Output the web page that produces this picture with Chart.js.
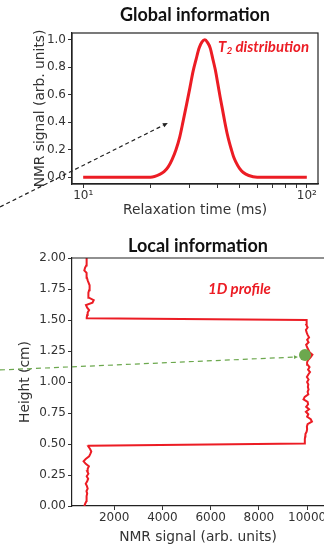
<!DOCTYPE html>
<html>
<head>
<meta charset="utf-8">
<script src="https://cdn.jsdelivr.net/npm/chart.js@4"></script>
<style>
  html, body { margin: 0; padding: 0; background: #fff; }
  body { width: 324px; height: 548px; overflow: hidden; position: relative; }
  #globalChart { position: absolute; left: 0; top: 0; }
  #localChart { position: absolute; left: 0; top: 230px; }
</style>
</head>
<body>
<canvas id="globalChart" width="324" height="230"></canvas>
<canvas id="localChart" width="344" height="318"></canvas>
<script>
// --- top panel: T2 distribution ---
const t2Times = [10, 15, 20, 22, 23, 24, 25, 26, 27, 28, 29, 30, 31, 32, 33, 34, 35, 36, 37, 38, 39, 40,
                 41, 42, 43, 44, 45, 46, 47, 48, 50, 52, 55, 60, 70, 100];
const t2Signal = [0, 0, 0, 0.02, 0.04, 0.075, 0.13, 0.2, 0.29, 0.41, 0.53, 0.65, 0.77, 0.86, 0.94, 0.985, 1.0, 0.98,
                  0.94, 0.86, 0.78, 0.68, 0.58, 0.49, 0.4, 0.32, 0.255, 0.2, 0.15, 0.115, 0.064, 0.034, 0.012, 0, 0, 0];
const t2TimeTicks = [10, 20, 30, 40, 50, 60, 70, 80, 90, 100];
const t2SignalTicks = [0, 0.2, 0.4, 0.6, 0.8, 1.0];

// --- bottom panel: 1D profile ---
const profileHeights = [
  0, 0.02, 0.04, 0.06, 0.08, 0.1, 0.12, 0.14, 0.16, 0.18, 0.2, 0.22, 0.24, 0.26, 0.28, 0.3, 0.32, 0.34, 0.36, 0.38,
  0.4, 0.42, 0.44, 0.46, 0.48, 0.485, 0.505,
  0.52, 0.54, 0.56, 0.58, 0.6, 0.62, 0.64, 0.66, 0.68, 0.7, 0.72, 0.74, 0.76, 0.78, 0.8, 0.82, 0.84, 0.86, 0.88,
  0.9, 0.92, 0.94, 0.96, 0.98, 1.0, 1.02, 1.04, 1.06, 1.08, 1.1, 1.12, 1.14, 1.16, 1.18, 1.2, 1.22, 1.24, 1.26,
  1.28, 1.3, 1.32, 1.34, 1.36, 1.38, 1.4, 1.42, 1.44, 1.46, 1.48, 1.5, 1.515,
  1.52, 1.54, 1.56, 1.58, 1.6, 1.62, 1.64, 1.66, 1.68, 1.7, 1.72, 1.74, 1.76, 1.78, 1.8, 1.82, 1.84, 1.86, 1.88,
  1.9, 1.92, 1.94, 1.96, 1.98, 2.0
];
const profileSignal = [
  760, 800, 850, 870, 840, 880, 850, 900, 870, 820, 880, 920, 860, 930, 880, 900, 950, 820, 730, 820,
  960, 1010, 1050, 1000, 930, 940, 9880,
  9900, 9910, 9920, 9930, 9980, 10000, 9990, 10020, 10200, 10150, 10000, 10050, 9950, 10080, 9960, 10040, 10020, 9850, 9900,
  10050, 10020, 10060, 10030, 10050, 10000, 10060, 9990, 10050, 10120, 10040, 10100, 10020, 10000, 10050, 10150, 10220, 10100, 10050,
  10000, 9960, 10060, 10000, 10080, 10020, 9980, 9950, 10020, 9970, 9980, 9980, 870,
  860, 880, 900, 960, 880, 830, 1100, 1150, 950, 920, 940, 960, 990, 970, 940, 900, 870, 860, 850,
  760, 790, 840, 860, 850, 860
];
const heightTicks = [0, 0.25, 0.5, 0.75, 1.0, 1.25, 1.5, 1.75, 2.0];
const profileSignalTicks = [2000, 4000, 6000, 8000, 10000];

// selected voxel and the arrows linking the panels (data units)
const pickedVoxel = [{ x: 9912, y: 1.218 }];
const globalArrow = { from: [4.25, -0.217], to: [23.9, 0.394] };
const localArrow = { from: [-2736, 1.097], to: [9622, 1.202] };

const red = 'rgb(236, 28, 36)';
const green = 'rgb(108, 168, 78)';
Chart.defaults.font.family = "'DejaVu Sans', sans-serif";
Chart.defaults.color = '#333';

function drawArrow(ctx, x0, y0, x1, y1, color, dash, head) {
  const a = Math.atan2(y1 - y0, x1 - x0);
  ctx.save();
  ctx.strokeStyle = color;
  ctx.fillStyle = color;
  ctx.lineWidth = 1.2;
  ctx.setLineDash(dash);
  ctx.beginPath();
  ctx.moveTo(x0, y0);
  ctx.lineTo(x1 - head * Math.cos(a), y1 - head * Math.sin(a));
  ctx.stroke();
  ctx.setLineDash([]);
  ctx.beginPath();
  ctx.moveTo(x1, y1);
  ctx.lineTo(x1 - head * Math.cos(a) + head * 0.45 * Math.sin(a), y1 - head * Math.sin(a) - head * 0.45 * Math.cos(a));
  ctx.lineTo(x1 - head * Math.cos(a) - head * 0.45 * Math.sin(a), y1 - head * Math.sin(a) + head * 0.45 * Math.cos(a));
  ctx.closePath();
  ctx.fill();
  ctx.restore();
}

function axisTitle(text, pad) {
  return { display: true, text: text, color: '#333', font: { size: 13.8 }, padding: pad };
}

const globalOverlay = {
  id: 'globalOverlay',
  afterDraw(chart) {
    const { ctx, chartArea: a, scales: { x, y } } = chart;
    ctx.save();
    ctx.strokeStyle = '#222';
    ctx.lineWidth = 1.2;
    ctx.strokeRect(a.left, a.top, a.right - a.left, a.bottom - a.top);
    // label
    ctx.fillStyle = red;
    ctx.textBaseline = 'middle';
    let tx = x.getPixelForValue(40.1), ty = y.getPixelForValue(0.948);
    ctx.font = "italic bold 15px Lato";
    ctx.fillText('T', tx, ty);
    tx += ctx.measureText('T').width;
    ctx.font = "italic bold 10px Lato";
    ctx.fillText('2', tx, ty + 4);
    tx += ctx.measureText('2').width;
    ctx.font = "italic bold 15px Lato";
    ctx.fillText(' distribution', tx, ty);
    ctx.restore();
    drawArrow(ctx, x.getPixelForValue(globalArrow.from[0]), y.getPixelForValue(globalArrow.from[1]),
      x.getPixelForValue(globalArrow.to[0]), y.getPixelForValue(globalArrow.to[1]), '#222', [4, 3], 5);
  }
};

new Chart(document.getElementById('globalChart'), {
  type: 'scatter',
  data: {
    datasets: [{
      data: t2Times.map((t, i) => ({ x: t, y: t2Signal[i] })),
      showLine: true,
      borderColor: red,
      borderWidth: 3,
      pointRadius: 0,
      cubicInterpolationMode: 'monotone'
    }]
  },
  options: {
    responsive: false,
    devicePixelRatio: 1,
    animation: false,
    layout: { padding: { left: 0, right: 6, top: 0, bottom: 0 } },
    plugins: {
      legend: { display: false },
      tooltip: { enabled: false },
      title: {
        display: true, text: 'Global information', fullSize: false, color: '#111',
        font: { family: 'Lato', size: 18, weight: 'bold' }, padding: { top: 4, bottom: 7.4 }
      }
    },
    scales: {
      x: {
        type: 'logarithmic', min: 8.913, max: 112.2,
        afterBuildTicks: s => { s.ticks = t2TimeTicks.map(v => ({ value: v })); },
        afterFit: s => { s.height = 46; },
        grid: { drawOnChartArea: false, tickLength: 4, color: '#333' },
        border: { color: '#222', width: 1.2 },
        ticks: {
          autoSkip: false, maxRotation: 0, padding: 1, font: { size: 12 },
          callback: v => v === 10 ? '10\u00b9' : (v === 100 ? '10\u00b2' : '')
        },
        title: axisTitle('Relaxation time (ms)', { top: 0, bottom: 11.7 })
      },
      y: {
        min: -0.05, max: 1.05,
        afterBuildTicks: s => { s.ticks = t2SignalTicks.map(v => ({ value: v })); },
        afterFit: s => { s.width = 72; },
        grid: { drawOnChartArea: false, tickLength: 4, color: '#333' },
        border: { color: '#222', width: 1.2 },
        ticks: { padding: 2, font: { size: 12 }, callback: v => v.toFixed(1) },
        title: axisTitle('NMR signal (arb. units)', { top: 31.7, bottom: 0 })
      }
    }
  },
  plugins: [globalOverlay]
});

const localOverlay = {
  id: 'localOverlay',
  afterDraw(chart) {
    const { ctx, chartArea: a, scales: { x, y } } = chart;
    ctx.save();
    ctx.strokeStyle = '#222';
    ctx.lineWidth = 1.2;
    ctx.beginPath();
    ctx.moveTo(a.left, a.top);
    ctx.lineTo(a.right, a.top);
    ctx.stroke();
    ctx.fillStyle = red;
    ctx.textBaseline = 'middle';
    ctx.font = "italic bold 15px Lato";
    ctx.fillText('1D profile', x.getPixelForValue(5890), y.getPixelForValue(1.75));
    ctx.restore();
    drawArrow(ctx, x.getPixelForValue(localArrow.from[0]), y.getPixelForValue(localArrow.from[1]),
      x.getPixelForValue(localArrow.to[0]), y.getPixelForValue(localArrow.to[1]), green, [5, 4], 4);
  }
};

new Chart(document.getElementById('localChart'), {
  type: 'scatter',
  data: {
    datasets: [{
      data: pickedVoxel,
      pointRadius: 6,
      backgroundColor: green,
      borderWidth: 0,
      order: 0
    }, {
      data: profileHeights.map((h, i) => ({ x: profileSignal[i], y: h })),
      showLine: true,
      borderColor: red,
      borderWidth: 2,
      pointRadius: 0,
      tension: 0,
      order: 1
    }]
  },
  options: {
    responsive: false,
    devicePixelRatio: 1,
    animation: false,
    layout: { padding: { left: 0, right: 20, top: 0, bottom: 0 } },
    plugins: {
      legend: { display: false },
      tooltip: { enabled: false },
      title: {
        display: true, text: 'Local information', fullSize: false, color: '#111',
        font: { family: 'Lato', size: 18, weight: 'bold' }, padding: { top: 5, bottom: 1.4 }
      }
    },
    scales: {
      x: {
        min: 250, max: 10700,
        afterBuildTicks: s => { s.ticks = profileSignalTicks.map(v => ({ value: v })); },
        afterFit: s => { s.height = 42; },
        grid: { drawOnChartArea: false, tickLength: 4, color: '#333' },
        border: { color: '#222', width: 1.2 },
        ticks: { autoSkip: false, maxRotation: 0, padding: 1, font: { size: 12 }, callback: v => String(v) },
        title: axisTitle('NMR signal (arb. units)', { top: 0, bottom: 2.7 })
      },
      y: {
        min: 0, max: 2,
        afterBuildTicks: s => { s.ticks = heightTicks.map(v => ({ value: v })); },
        afterFit: s => { s.width = 72; },
        grid: { drawOnChartArea: false, tickLength: 4, color: '#333' },
        border: { color: '#222', width: 1.2 },
        ticks: { padding: 2, font: { size: 12 }, callback: v => v.toFixed(2) },
        title: axisTitle('Height (cm)', { top: 16.7, bottom: 0 })
      }
    }
  },
  plugins: [localOverlay]
});
</script>
</body>
</html>
